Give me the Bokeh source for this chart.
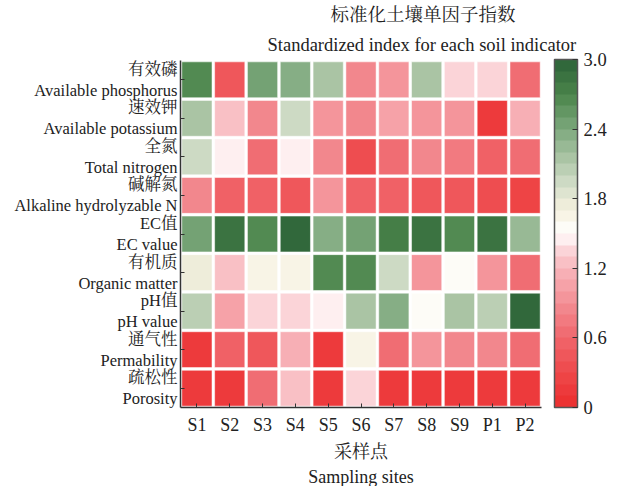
import numpy as np
from bokeh.plotting import figure
from bokeh.models import (ColumnDataSource, LinearColorMapper, ColorBar, FixedTicker,
                          PrintfTickFormatter, Title, FactorRange)
from bokeh.embed import file_html
from bokeh.resources import INLINE

sites = ["S1", "S2", "S3", "S4", "S5", "S6", "S7", "S8", "S9", "P1", "P2"]
indicators = [
    "有效磷\nAvailable phosphorus",
    "速效钾\nAvailable potassium",
    "全氮\nTotal nitrogen",
    "碱解氮\nAlkaline hydrolyzable N",
    "EC值\nEC value",
    "有机质\nOrganic matter",
    "pH值\npH value",
    "通气性\nPermability",
    "疏松性\nPorosity",
]
ap = [2.6, 0.45, 2.5, 2.35, 2.15, 0.85, 0.9, 2.15, 1.3, 1.3, 0.7]
ak = [2.1, 1.2, 0.85, 1.95, 0.9, 0.85, 1.0, 0.9, 0.9, 0.15, 1.15]
tn = [1.95, 1.48, 0.6, 1.47, 0.85, 0.3, 0.7, 0.8, 0.75, 0.5, 0.6]
ahn = [0.85, 0.55, 0.5, 0.45, 0.9, 0.55, 0.5, 0.45, 0.45, 0.3, 0.25]
ec = [2.5, 2.9, 2.65, 2.95, 2.35, 2.45, 2.75, 2.9, 2.6, 2.85, 2.25]
om = [1.7, 1.2, 1.6, 1.6, 2.6, 2.6, 1.9, 0.9, 1.5, 0.9, 0.65]
ph = [2.05, 1.05, 1.35, 1.3, 1.45, 2.15, 2.3, 1.5, 2.15, 2.0, 2.95]
perm = [0.1, 0.5, 0.4, 1.15, 0.15, 1.6, 0.6, 0.9, 0.8, 0.85, 0.7]
poro = [0.1, 0.1, 0.65, 1.25, 0.1, 1.35, 0.1, 0.1, 0.1, 0.1, 0.1]
rows = [ap, ak, tn, ahn, ec, om, ph, perm, poro]
cbar_ticks = [0, 0.6, 1.2, 1.8, 2.4, 3.0]

# palette: 30 discrete bands red -> white -> green
anchors_v = [0.0, 0.3, 0.6, 0.9, 1.2, 1.4, 1.5, 1.7, 1.9, 2.4, 2.7, 3.0]
anchors_c = [(236, 45, 45), (238, 72, 74), (240, 102, 108), (243, 142, 148),
             (248, 182, 188), (252, 222, 225), (255, 255, 255), (246, 241, 222),
             (214, 224, 204), (125, 168, 125), (74, 132, 74), (44, 98, 56)]
centers = (np.arange(30) + 0.5) * 0.1
pal = []
for c in centers:
    rgb = [int(round(np.interp(c, anchors_v, [a[k] for a in anchors_c]))) for k in range(3)]
    pal.append("#%02x%02x%02x" % tuple(rgb))

xs, ys, vs = [], [], []
for ind, r in zip(indicators, rows):
    for s, v in zip(sites, r):
        xs.append(s); ys.append(ind); vs.append(v)
src = ColumnDataSource(dict(x=xs, y=ys, v=vs))

FONT = "'Liberation Serif', 'Noto Serif CJK SC', 'Noto Sans CJK SC', serif"

p = figure(frame_width=361, frame_height=347, output_backend="svg", toolbar_location=None,
           x_range=FactorRange(*sites, range_padding=0),
           y_range=FactorRange(*list(reversed(indicators)), range_padding=0),
           min_border_left=180, min_border_right=68, min_border_top=0, min_border_bottom=0)
p.title = None
mapper = LinearColorMapper(palette=pal, low=0, high=3)
p.rect(x="x", y="y", width=0.92, height=0.93, source=src,
       fill_color={"field": "v", "transform": mapper}, line_color="#ffffff", line_alpha=0.5, line_width=1)

p.grid.visible = False
p.outline_line_color = None
for ax in (p.xaxis[0], p.yaxis[0]):
    ax.axis_line_color = "#333333"
    ax.axis_line_width = 1.5
    ax.major_tick_in = 4
    ax.major_tick_out = 0
    ax.major_tick_line_color = "#333333"
    ax.minor_tick_line_color = None
    ax.major_label_text_font = FONT
    ax.major_label_text_color = "#222222"
    ax.axis_label_text_font = FONT
    ax.axis_label_text_font_style = "normal"
    ax.axis_label_text_color = "#222222"

p.yaxis.major_label_text_font_size = "16.5px"
p.yaxis.major_label_text_line_height = 1.1
p.yaxis.major_label_text_align = "right"
p.yaxis.major_label_standoff = 3
p.xaxis.major_label_text_font_size = "18px"
p.xaxis.major_label_standoff = 7
p.xaxis.axis_label = "采样点"
p.xaxis.axis_label_text_font_size = "18px"
p.xaxis.axis_label_standoff = 4

cb = ColorBar(color_mapper=mapper, ticker=FixedTicker(ticks=cbar_ticks),
              formatter=PrintfTickFormatter(format="%.1f"),
              major_label_overrides={0: "0"},
              width=23, height=348, padding=0, margin=0, location=(13, 0),
              bar_line_color="#555555", bar_line_width=1.5,
              major_tick_line_color="#333333", major_tick_in=5, major_tick_out=0,
              major_label_text_font=FONT, major_label_text_font_size="18.5px",
              major_label_text_color="#222222", label_standoff=6)
p.add_layout(cb, "right")

xsub = Title(text="Sampling sites", align="center",
             text_font=FONT, text_font_size="18px", text_font_style="normal", text_color="#222222",
             standoff=0)
p.add_layout(xsub, "below")

t2 = Title(text="Standardized index for each soil indicator", align="left", offset=87,
           text_font=FONT, text_font_size="18.5px", text_font_style="normal", text_color="#222222",
           standoff=12)
t1 = Title(text="标准化土壤单因子指数", align="left", offset=150,
           text_font=FONT, text_font_size="18.5px", text_font_style="normal", text_color="#222222",
           standoff=4)
p.add_layout(t2, "above")
p.add_layout(t1, "above")

open("out.html", "w").write(file_html(p, INLINE))
